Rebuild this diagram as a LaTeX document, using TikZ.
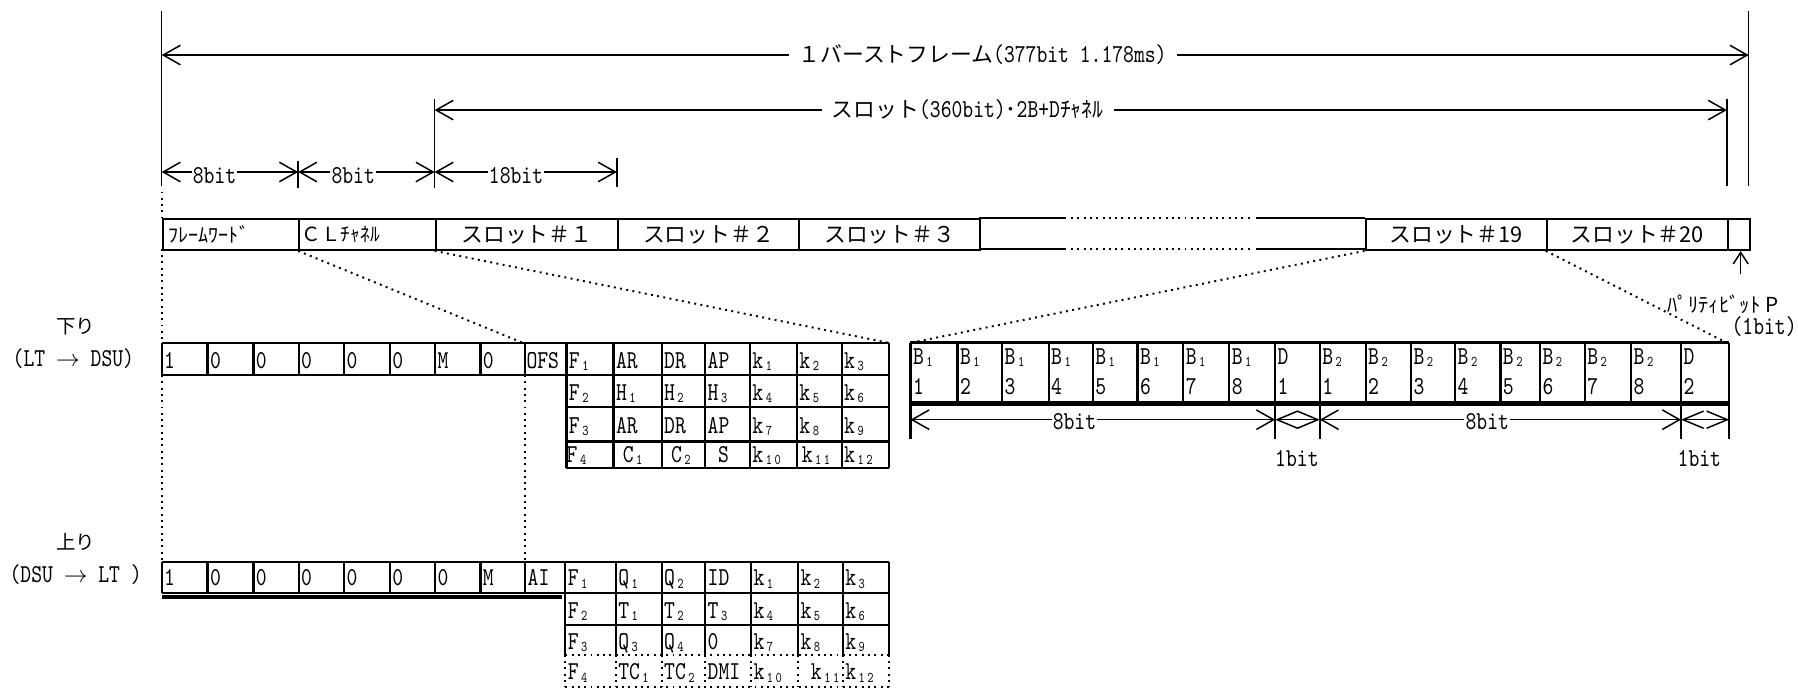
\documentclass[tikz,border=0pt]{standalone}
\usepackage{fontspec}
\usetikzlibrary{arrows.meta}
\newfontfamily\jpf{Noto Sans CJK JP}
\newfontfamily\latf[FakeStretch=0.8]{lmmono10-regular.otf}
\newcommand\jps{\jpf\fontsize{19}{22}\selectfont}
\newcommand\lsb[1]{\raisebox{-2pt}{\fontsize{13}{13}\selectfont\,#1}}
\tikzset{
  >={Straight Barb[length=15pt,width=17pt]},
  ln/.style={line width=1.3pt},
  tb/.style={line width=1.9pt},
  bx/.style={line width=1.8pt},
  dotl/.style={line width=1.7pt, dash pattern=on 1.7pt off 3.8pt},
  dim/.style={ln,<->},
  dia/.style={ln,{Straight Barb[length=18pt,width=15pt]}-{Straight Barb[length=18pt,width=15pt]}},
  jtx/.style={font=\jps, inner sep=0pt},
  ltx/.style={font=\latf\fontsize{22.5}{25}\selectfont, inner sep=0pt},
  lbl/.style={ltx, fill=white, inner xsep=9pt, inner ysep=2pt},
  slot/.style={draw, bx, jtx, anchor=north west, minimum height=27pt},
}
\newcommand\ttext[3]{%
  \foreach \xa/\tx [count=\i] in {#3} {%
    \node[ltx,anchor=base west] (#2\i) at (\xa,#1) {\tx};
  }}
\begin{document}
\begin{tikzpicture}[x=1pt,y=-1pt]
\useasboundingbox (0,0) rectangle (1568,600);

% ---------- top dimension lines ----------
\draw[ln] (141,10) -- (141,162);
\draw[dotl] (141,167) -- (141,190);
\draw[ln] (1525,10) -- (1525,162);
\draw[ln] (1506,86) -- (1506,162);
\draw[ln] (379,86) -- (379,164);
\draw[ln] (260,140) -- (260,164);
\draw[ln] (538,138) -- (538,163);

\coordinate (A1) at (141,48); \coordinate (B1) at (1525,48);
\draw[dim] (A1) -- (B1);
\node[lbl] (T1) at (857,48) {{\jps １バーストフレーム}(377bit 1.178ms)};

\coordinate (A2) at (379,96); \coordinate (B2) at (1506,96);
\draw[dim] (A2) -- (B2);
\node[lbl] (T2) at (844,96) {{\jps スロット}(360bit){\jps ･}2B+D{\jps ﾁｬﾈﾙ}};

\coordinate (A3) at (141,150); \coordinate (B3) at (260,150);
\coordinate (C3) at (379,150); \coordinate (D3) at (538,150);
\draw[dim] (A3) -- (B3);
\draw[dim] (B3) -- (C3);
\draw[dim] (C3) -- (D3);
\node[ltx, fill=white, inner xsep=1pt] (t8a) at (187,153) {8bit};
\node[ltx, fill=white, inner xsep=1pt] (t8b) at (308,153) {8bit};
\node[ltx, fill=white, inner xsep=1pt] (t18) at (450,153) {18bit};

% ---------- frame row ----------
\node[slot, minimum width=119pt] (fw) at (141,190) {};
\node[slot, minimum width=119pt] (cl) at (260,190) {};
\node[jtx, font=\jpf\fontsize{17.5}{20}\selectfont, anchor=west] (fwt) at ([xshift=6pt]fw.west) {ﾌﾚｰﾑﾜｰﾄﾞ};
\node[jtx, font=\jpf\fontsize{17}{20}\selectfont, anchor=west] (clt) at ([xshift=3pt]cl.west) {ＣＬﾁｬﾈﾙ};
\node[slot, minimum width=159pt] (s1) at (379,190) {スロット＃１};
\node[slot, minimum width=158pt] (s2) at (538,190) {スロット＃２};
\node[slot, minimum width=158pt] (s3) at (696,190) {スロット＃３};
\node[slot, minimum width=158pt] (s19) at (1190,190) {スロット＃19};
\node[slot, minimum width=158pt] (s20) at (1348,190) {スロット＃20};
\node[slot, minimum width=19pt] (par) at (1506,190) {};
\draw[bx] (854,190) -- (930,190);
\draw[dotl] (934,190) -- (1093,190);
\draw[bx] (1095,190) -- (1190,190);
\draw[bx] (854,217) -- (930,217);
\draw[dotl] (934,217) -- (1093,217);
\draw[bx] (1095,217) -- (1190,217);

% parity
\coordinate (pa) at (1518,239);
\draw[ln,-{Straight Barb[length=10pt,width=13pt]}] (pa) -- (1518,219);
\node[jtx, font=\jpf\fontsize{18}{20}\selectfont, anchor=west] (pl) at (1454,265) {ﾊﾟﾘﾃｨﾋﾞｯﾄ P};
\node[ltx, anchor=east] (pl2) at (1567,285) {(1bit)};

% ---------- zoom dotted lines ----------
\draw[dotl] (141,217) -- (141,299);
\draw[dotl] (141,327) -- (141,490);
\draw[dotl] (458,327) -- (458,490);
\draw[dotl] (cl.south west) -- (456,299);
\draw[dotl] (s1.south west) -- (775,299);
\draw[dotl] (s19.south west) -- (794,299);
\draw[dotl] (s20.south west) -- (1506,299);

% ---------- labels ----------
\node[jtx, font=\jpf\fontsize{17}{20}\selectfont] (dnl) at (66,285) {下り};
\node[ltx] (dnl2) at (64,313) {(LT $\rightarrow$ DSU)};
\node[jtx, font=\jpf\fontsize{17}{20}\selectfont] (upl) at (66,473) {上り};
\node[ltx] (upl2) at (66,501) {(DSU $\rightarrow$ LT )};

% ---------- downlink ----------
\draw[tb] (141,299) -- (775,299);
\draw[tb] (141,327) -- (775,327);
\foreach \x in {141,181,221,260.5,300,340,379.5,419,458,494} \draw[tb] (\x,299) -- (\x,327);
\foreach \y in {355,385,408} \draw[tb] (494,\y) -- (775,\y);
\foreach \x in {494,535,577,615,654,695,734,775} \draw[tb] (\x,299) -- (\x,408);
\ttext{321}{dn}{143/1,183/0,223/0,262.5/0,302/0,342/0,381.5/M,421/0,459/OFS}
\ttext{321}{da}{496/F\lsb{1},537/AR,579/DR,617/AP,656/k\lsb{1},697/k\lsb{2},736/k\lsb{3}}
\ttext{349}{db}{496/F\lsb{2},537/H\lsb{1},579/H\lsb{2},617/H\lsb{3},656/k\lsb{4},697/k\lsb{5},736/k\lsb{6}}
\ttext{378}{dc}{496/F\lsb{3},537/AR,579/DR,617/AP,656/k\lsb{7},697/k\lsb{8},736/k\lsb{9}}
\ttext{403}{dd}{494/F\lsb{4},543/C\lsb{1},585/C\lsb{2},626/S,656/k\lsb{1\,0},699/k\lsb{1\,1},736/k\lsb{1\,2}}

% ---------- uplink ----------
\draw[tb] (141,490) -- (775,490);
\draw[tb] (141,517) -- (775,517);
\draw[line width=3pt] (141,520.5) -- (490,520.5);
\foreach \x in {141,181,221,260.5,300,340,379.5,419,458,493} \draw[tb] (\x,490) -- (\x,517);
\draw[tb] (493,545) -- (775,545);
\draw[dotl] (493,571) -- (775,571);
\draw[dotl] (493,599) -- (775,599);
\foreach \x in {493,537,577,615,655,696,735,775} {
  \draw[tb] (\x,490) -- (\x,571);
  \draw[dotl] (\x,571) -- (\x,599);
}
\ttext{511}{un}{143/1,183/0,223/0,262.5/0,302/0,342/0,381.5/0,421/M,460/AI}
\ttext{511}{ua}{495/F\lsb{1},539/Q\lsb{1},579/Q\lsb{2},617/ID,657/k\lsb{1},698/k\lsb{2},737/k\lsb{3}}
\ttext{539}{ub}{495/F\lsb{2},539/T\lsb{1},579/T\lsb{2},617/T\lsb{3},657/k\lsb{4},698/k\lsb{5},737/k\lsb{6}}
\ttext{566}{uc}{495/F\lsb{3},539/Q\lsb{3},579/Q\lsb{4},617/0,657/k\lsb{7},698/k\lsb{8},737/k\lsb{9}}
\ttext{593}{ud}{495/F\lsb{4},539/TC\lsb{1},579/TC\lsb{2},617/DMI,657/k\lsb{1\,0},707/k\lsb{1\,1},737/k\lsb{1\,2}}

% ---------- B / D bits ----------
\foreach \x in {794,835,874,914.5,953,992,1032,1072,1112,1151,1191,1230.5,1269,1308.5,1343,1382,1422.5,1466,1508}
  \draw[tb] (\x,299) -- (\x,352);
\draw[line width=2.4pt] (794,299) -- (1508,299);
\draw[line width=4.5pt] (794,352) -- (1508,352);
\ttext{318}{ba}{796/B\lsb{1},837/B\lsb{1},876/B\lsb{1},916.5/B\lsb{1},955/B\lsb{1},994/B\lsb{1},1034/B\lsb{1},1074/B\lsb{1},1114/D,1153/B\lsb{2},1193/B\lsb{2},1232.5/B\lsb{2},1271/B\lsb{2},1310.5/B\lsb{2},1345/B\lsb{2},1384/B\lsb{2},1424.5/B\lsb{2},1468/D}
\ttext{344}{bb}{796/1,837/2,876/3,916.5/4,955/5,994/6,1034/7,1074/8,1114/1,1153/1,1193/2,1232.5/3,1271/4,1310.5/5,1345/6,1384/7,1424.5/8,1468/2}
\foreach \x in {794,1112,1151,1466,1508} \draw[tb] (\x,352) -- (\x,383);
\coordinate (E1) at (794,366); \coordinate (E2) at (1112,366);
\coordinate (E3) at (1151,366); \coordinate (E4) at (1466,366);
\coordinate (E5) at (1508,366);
\draw[dim] (E1) -- (E2);
\draw[dia] (E2) -- (E3);
\draw[dim] (E3) -- (E4);
\draw[dia] (E4) -- (E5);
\node[ltx, fill=white, inner xsep=1pt] (b8a) at (937,368) {8bit};
\node[ltx, fill=white, inner xsep=1pt] (b8b) at (1297,368) {8bit};
\node[ltx] (ob1) at (1131,400) {1bit};
\node[ltx] (ob2) at (1482,400) {1bit};
\end{tikzpicture}
\end{document}
